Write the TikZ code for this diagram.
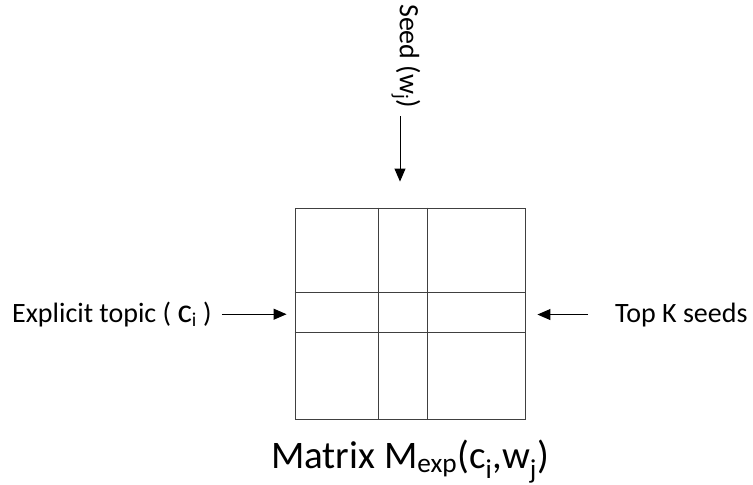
\documentclass[tikz,border=0pt]{standalone}
\usepackage{fontspec}
\setmainfont{Carlito}
\usetikzlibrary{positioning,arrows.meta}

\begin{document}
\begin{tikzpicture}[x=1pt,y=-1pt,
    lbl/.style={font=\fontsize{28}{32}\selectfont, inner sep=0pt},
    title/.style={font=\fontsize{39}{46}\selectfont, inner sep=0pt},
    matbox/.style={draw=black!75, line width=0.9pt, inner sep=0pt,
                   minimum width=230pt, minimum height=211pt},
    cell/.style={draw=black!75, line width=0.9pt},
    arrow/.style={-{Triangle[length=13pt,width=11pt]}, line width=1pt},
  ]
    \useasboundingbox (0,0) rectangle (753,485);

    % the matrix
    \node[matbox] (mat) at (410,313.5) {};
    \draw[cell] (378,0 |- mat.north) -- (378,0 |- mat.south);
    \draw[cell] (427,0 |- mat.north) -- (427,0 |- mat.south);
    \draw[cell] (mat.west |- 0,292) -- (mat.east |- 0,292);
    \draw[cell] (mat.west |- 0,332) -- (mat.east |- 0,332);

    % labels
    \node[lbl, anchor=base west] (topic) at (12,322)
       {Explicit topic ( {\fontsize{34}{36}\selectfont c}\textsubscript{i} )};
    \node[lbl, anchor=base west] (topk) at (615,322) {Top K seeds};
    \node[lbl, rotate=-90, anchor=west] (seed) at (406,4) {Seed (w\textsubscript{j})};
    \node[title, anchor=base] (name) at (410,468)
       {Matrix M\textsubscript{exp}(c\textsubscript{i},w\textsubscript{j})};

    % arrows
    \draw[arrow, shorten <=10pt, shorten >=8pt] (topic.east) -- (mat.west |- topic.east);
    \draw[arrow, shorten <=27pt, shorten >=12pt] (topk.west) -- (mat.east |- topk.west);
    \draw[arrow, shorten <=8pt, shorten >=26pt] ([xshift=-6pt]seed.east) -- ([xshift=-6pt]seed.east |- mat.north);
\end{tikzpicture}
\end{document}
